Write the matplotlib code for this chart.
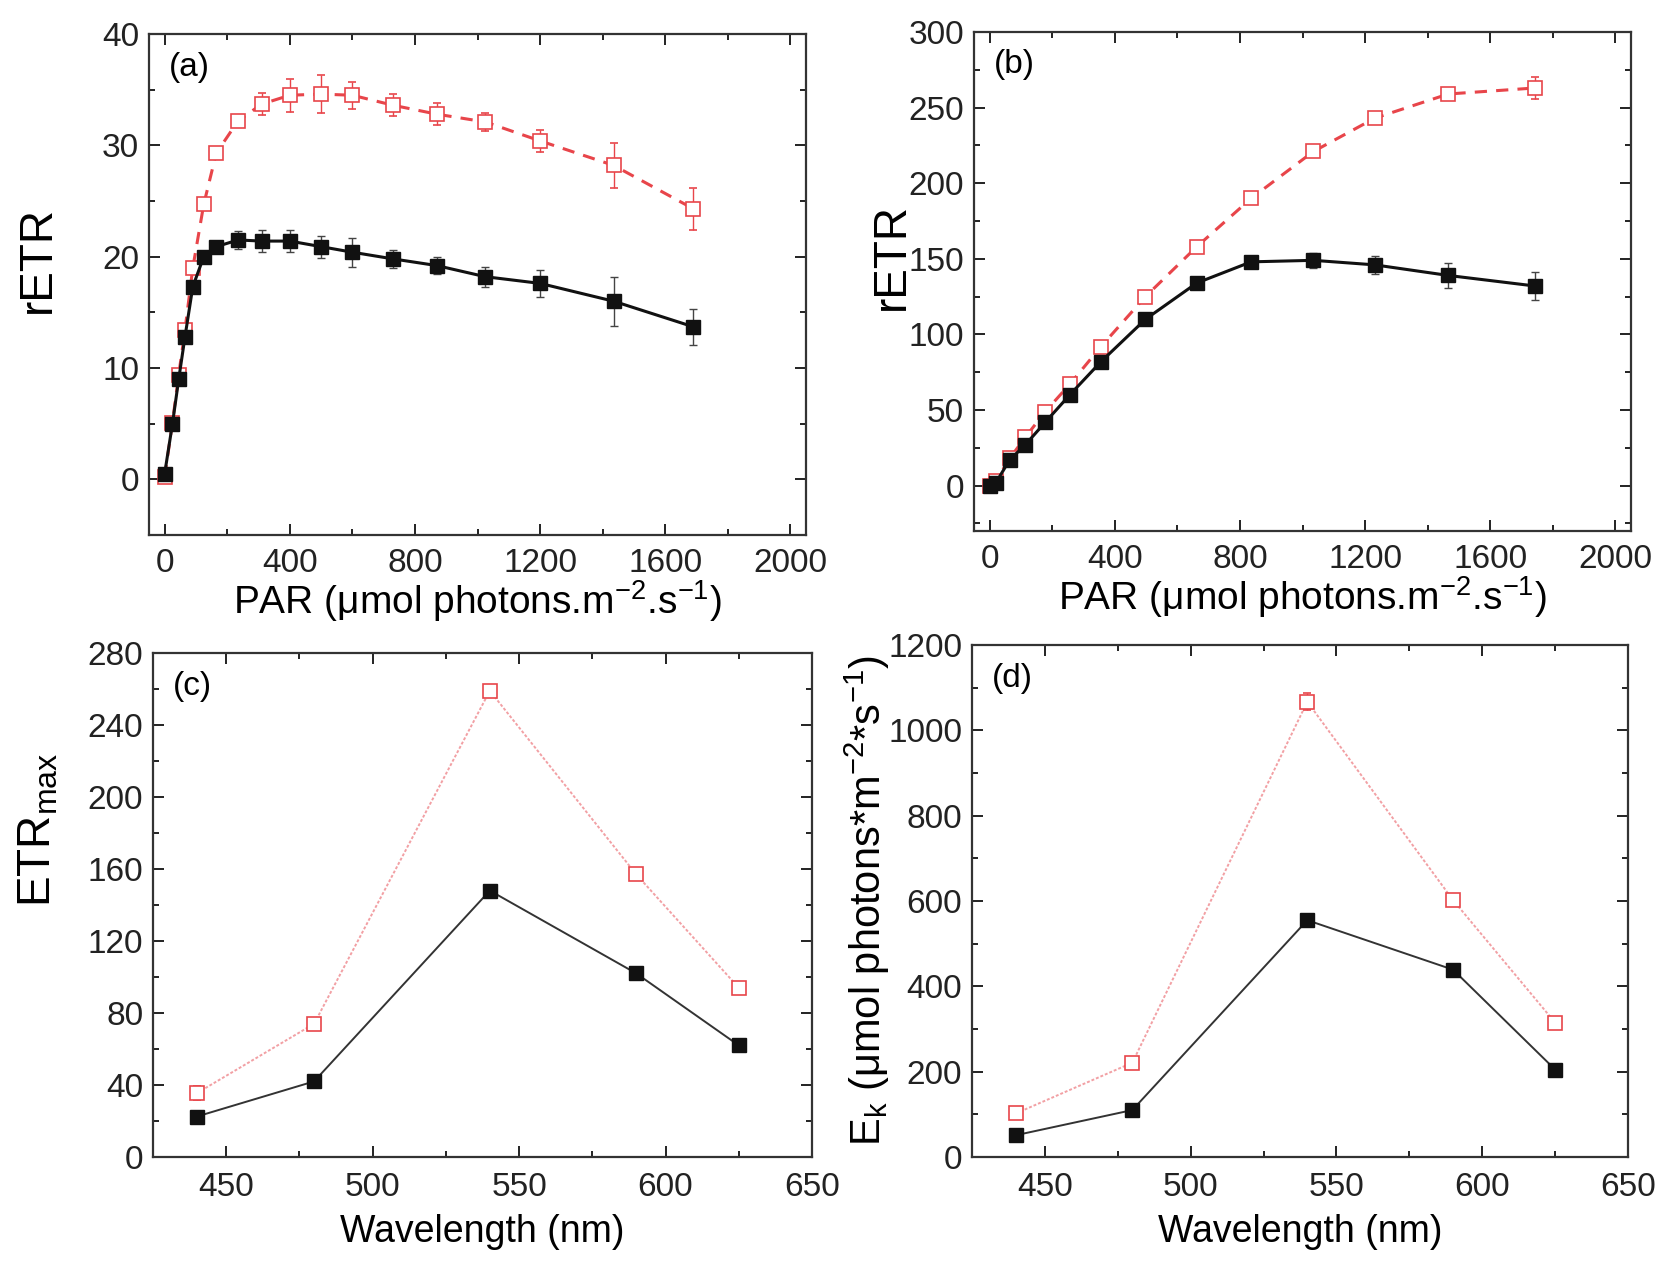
import matplotlib
matplotlib.use("Agg")
import matplotlib.pyplot as plt
from matplotlib.ticker import MultipleLocator

plt.rcParams['font.family'] = ['Liberation Sans', 'DejaVu Sans']
plt.rcParams['mathtext.fontset'] = 'custom'
plt.rcParams['mathtext.rm'] = 'Liberation Sans'
plt.rcParams['mathtext.it'] = 'Liberation Sans:italic'
plt.rcParams['mathtext.bf'] = 'Liberation Sans:bold'

# ---------------- data ----------------
# (a)
par_a = [0, 25, 45, 65, 90, 125, 165, 235, 310, 400, 500, 600, 730, 870, 1025, 1200, 1435, 1690]
black_a = [0.5, 5.0, 9.0, 12.8, 17.3, 20.0, 20.9, 21.5, 21.4, 21.4, 20.9, 20.4, 19.8, 19.2, 18.2, 17.6, 16.0, 13.7]
black_a_err = [0.3, 0.3, 0.5, 0.5, 0.5, 0.5, 0.5, 0.8, 1.0, 1.0, 1.0, 1.3, 0.8, 0.8, 0.9, 1.2, 2.2, 1.6]
red_a = [0.2, 5.1, 9.4, 13.4, 19.0, 24.7, 29.3, 32.2, 33.7, 34.5, 34.6, 34.5, 33.6, 32.8, 32.1, 30.4, 28.2, 24.3]
red_a_err = [0.3, 0.4, 0.5, 0.5, 0.5, 0.5, 0.5, 0.5, 1.0, 1.5, 1.7, 1.2, 1.0, 1.0, 0.8, 1.0, 2.0, 1.9]

# (b)
par_b = [0, 20, 64, 114, 178, 256, 356, 498, 662, 836, 1035, 1231, 1466, 1744]
black_b = [0, 2, 17, 27, 42, 60, 82, 110, 134, 148, 149, 146, 139, 132]
black_b_err = [1, 1, 2, 2, 2, 2, 3, 3, 3, 3, 5, 6, 8, 9]
red_b = [0, 3, 18, 32, 49, 67, 92, 125, 158, 190, 221, 243, 259, 263]
red_b_err = [1, 1, 2, 2, 2, 2, 2, 3, 3, 3, 3, 3, 4, 7]

# (c) and (d)
wavelength = [440, 480, 540, 590, 625]
etrmax_black = [22.5, 42, 148, 102, 62]
etrmax_black_err = [1, 1, 2, 2, 2]
etrmax_red = [35.5, 74, 259, 157, 94]
etrmax_red_err = [4, 3, 3, 3, 3]
ek_black = [51, 110, 555, 439, 205]
ek_black_err = [5, 5, 8, 8, 8]
ek_red = [102, 221, 1067, 602, 315]
ek_red_err = [10, 10, 20, 12, 12]

BLACK = '#111111'
RED = '#e8454a'
RED_LIGHT = '#f2a0a4'

fig = plt.figure(figsize=(16.63, 12.65), dpi=100)
W, H = 1663, 1265


def add_ax(l, t, r, b):
    return fig.add_axes([l / W, 1 - b / H, (r - l) / W, (b - t) / H])


ax_a = add_ax(149, 34, 806, 535)
ax_b = add_ax(974, 32, 1631, 531)
ax_c = add_ax(153, 653, 812, 1157)
ax_d = add_ax(972, 645, 1628, 1157)

TICKFS = 24
PARFS = 28
WLFS = 27
YLABELFS = 33


def style(ax, xmaj, xmin, ymaj, ymin, xpad=11):
    ax.xaxis.set_major_locator(MultipleLocator(xmaj))
    ax.xaxis.set_minor_locator(MultipleLocator(xmin))
    ax.yaxis.set_major_locator(MultipleLocator(ymaj))
    ax.yaxis.set_minor_locator(MultipleLocator(ymin))
    ax.tick_params(which='both', direction='in', top=True, right=True,
                   labelsize=TICKFS, width=1.4, colors='#222222')
    ax.tick_params(which='major', length=8)
    ax.tick_params(axis='x', which='major', pad=xpad)
    ax.tick_params(axis='y', which='major', pad=7)
    ax.tick_params(which='minor', length=4.5)
    for s in ax.spines.values():
        s.set_linewidth(1.6)
        s.set_color('#333333')


# (a)
ax_a.errorbar(par_a, red_a, yerr=red_a_err, color=RED, ls=(0, (4, 3)), lw=2.2,
              marker='s', ms=10, mfc='white', mec=RED, mew=1.2,
              ecolor=RED, elinewidth=1.0, capsize=3, zorder=2)
ax_a.errorbar(par_a, black_a, yerr=black_a_err, color=BLACK, ls='-', lw=2.2,
              marker='s', ms=10, mfc=BLACK, mec=BLACK,
              ecolor='#444444', elinewidth=1.0, capsize=3, zorder=3)
ax_a.set_xlim(-50, 2050)
ax_a.set_ylim(-5, 40)
style(ax_a, 400, 200, 10, 5, xpad=9)
ax_a.set_xlabel('PAR (μmol photons.m$^{-2}$.s$^{-1}$)', fontsize=PARFS, labelpad=0)
ax_a.set_ylabel('rETR', fontsize=YLABELFS)
ax_a.yaxis.set_label_coords(-0.135, 0.55)
ax_a.text(0.03, 0.965, '(a)', transform=ax_a.transAxes, fontsize=TICKFS, va='top', ha='left')

# (b)
ax_b.errorbar(par_b, red_b, yerr=red_b_err, color=RED, ls=(0, (4, 3)), lw=2.2,
              marker='s', ms=10, mfc='white', mec=RED, mew=1.2,
              ecolor=RED, elinewidth=1.0, capsize=3, zorder=2)
ax_b.errorbar(par_b, black_b, yerr=black_b_err, color=BLACK, ls='-', lw=2.2,
              marker='s', ms=10, mfc=BLACK, mec=BLACK,
              ecolor='#444444', elinewidth=1.0, capsize=3, zorder=3)
ax_b.set_xlim(-50, 2050)
ax_b.set_ylim(-30, 300)
style(ax_b, 400, 200, 50, 25, xpad=9)
ax_b.set_xlabel('PAR (μmol photons.m$^{-2}$.s$^{-1}$)', fontsize=PARFS, labelpad=0)
ax_b.set_ylabel('rETR', fontsize=YLABELFS)
ax_b.yaxis.set_label_coords(-0.092, 0.55)
ax_b.text(0.03, 0.965, '(b)', transform=ax_b.transAxes, fontsize=TICKFS, va='top', ha='left')

# (c)
ax_c.errorbar(wavelength, etrmax_red, yerr=etrmax_red_err, color=RED_LIGHT, ls=(0, (1.5, 1)), lw=1.4,
              marker='s', ms=10, mfc='white', mec=RED, mew=1.2,
              ecolor=RED, elinewidth=1.0, capsize=3, zorder=2)
ax_c.errorbar(wavelength, etrmax_black, yerr=etrmax_black_err, color='#333333', ls='-', lw=1.4,
              marker='s', ms=10, mfc=BLACK, mec=BLACK,
              ecolor='#444444', elinewidth=1.0, capsize=3, zorder=3)
ax_c.set_xlim(425, 650)
ax_c.set_ylim(0, 280)
style(ax_c, 50, 25, 40, 20)
ax_c.set_xlabel('Wavelength (nm)', fontsize=WLFS, labelpad=8)
ax_c.set_ylabel('ETR$_{\\rm max}$', fontsize=YLABELFS)
ax_c.yaxis.set_label_coords(-0.14, 0.65)
ax_c.text(0.03, 0.965, '(c)', transform=ax_c.transAxes, fontsize=TICKFS, va='top', ha='left')

# (d)
ax_d.errorbar(wavelength, ek_red, yerr=ek_red_err, color=RED_LIGHT, ls=(0, (1.5, 1)), lw=1.4,
              marker='s', ms=10, mfc='white', mec=RED, mew=1.2,
              ecolor=RED, elinewidth=1.0, capsize=3, zorder=2)
ax_d.errorbar(wavelength, ek_black, yerr=ek_black_err, color='#333333', ls='-', lw=1.4,
              marker='s', ms=10, mfc=BLACK, mec=BLACK,
              ecolor='#444444', elinewidth=1.0, capsize=3, zorder=3)
ax_d.set_xlim(425, 650)
ax_d.set_ylim(0, 1200)
style(ax_d, 50, 25, 200, 100)
ax_d.set_xlabel('Wavelength (nm)', fontsize=WLFS, labelpad=8)
ax_d.set_ylabel('E$_{\\rm k}$ (μmol photons*m$^{-2}$*s$^{-1}$)', fontsize=30)
ax_d.yaxis.set_label_coords(-0.122, 0.5)
ax_d.text(0.03, 0.965, '(d)', transform=ax_d.transAxes, fontsize=TICKFS, va='top', ha='left')

fig.savefig('out.png', dpi=100)
